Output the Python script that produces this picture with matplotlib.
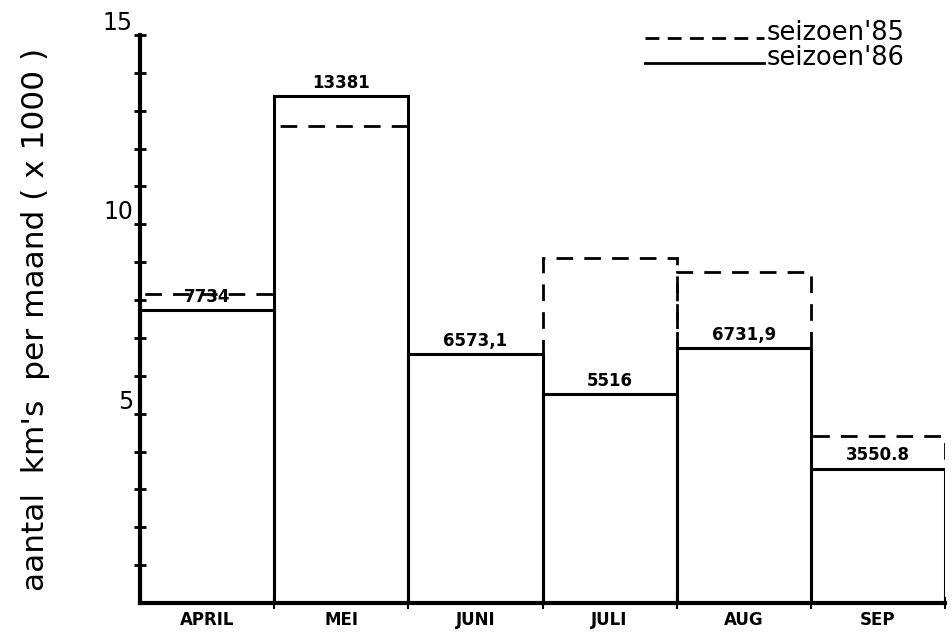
import matplotlib
matplotlib.use("Agg")
import matplotlib.pyplot as plt
import numpy as np

months = ["APRIL", "MEI", "JUNI", "JULI", "AUG", "SEP"]
season86 = [7.734, 13.381, 6.5731, 5.516, 6.7319, 3.5508]
season85 = [8.15, 12.6, 6.5731, 9.1, 8.75, 4.4]
value_labels = ["7734", "13381", "6573,1", "5516", "6731,9", "3550.8"]
ytick_vals = list(range(1, 16))
ytick_labels = ["" if v % 5 else str(v) for v in ytick_vals]
legend_labels = ["seizoen'85", "seizoen'86"]

fig = plt.figure(figsize=(9.52, 6.37), dpi=100)
ax = fig.add_axes([140/952, 34/637, 805/952, 568/637])
x = np.arange(len(months)) + 0.5

ax.bar(x, season85, width=1.0, fill=False, edgecolor="black", linewidth=2,
       linestyle=(0, (6, 4)), zorder=2)
ax.bar(x, season86, width=1.0, fill=False, edgecolor="black", linewidth=2.2,
       linestyle="-", zorder=3)

for xi, v, lab in zip(x, season86, value_labels):
    ax.text(xi, v + 0.12, lab, ha="center", va="bottom", fontsize=12,
            fontweight="bold", zorder=4)

ax.set_xlim(0, 6)
ax.set_ylim(0, 15)
for s in ["top", "right"]:
    ax.spines[s].set_visible(False)
ax.spines["left"].set_linewidth(3)
ax.spines["bottom"].set_linewidth(3)

ax.set_yticks(ytick_vals)
ax.set_yticklabels(ytick_labels, fontsize=17, va="bottom")
ax.tick_params(axis="y", which="major", direction="inout", length=8, width=2, pad=1)

ax.set_xticks(np.arange(1, 7), minor=True)
ax.set_xticks(x)
ax.set_xticklabels(months, fontsize=12, fontweight="bold")
ax.tick_params(axis="x", which="major", length=0, pad=6)
ax.tick_params(axis="x", which="minor", direction="inout", length=8, width=1.5)

ax.set_ylabel("aantal  km's  per maand ( x 1000 )", fontsize=22.5, labelpad=38)

# legend drawn as lines in axes coordinates
y85 = 0.994
y86 = 0.950
ax.plot([0.627, 0.775], [y85, y85], transform=ax.transAxes, color="black",
        linewidth=2, linestyle=(0, (5, 3)), clip_on=False)
ax.plot([0.627, 0.775], [y86, y86], transform=ax.transAxes, color="black",
        linewidth=2, linestyle="-", clip_on=False)
ax.text(0.778, y85 - 0.002, legend_labels[0], transform=ax.transAxes, fontsize=18.5,
        va="baseline", ha="left")
ax.text(0.778, y86 - 0.002, legend_labels[1], transform=ax.transAxes, fontsize=18.5,
        va="baseline", ha="left")

fig.savefig("out.png", dpi=100)
